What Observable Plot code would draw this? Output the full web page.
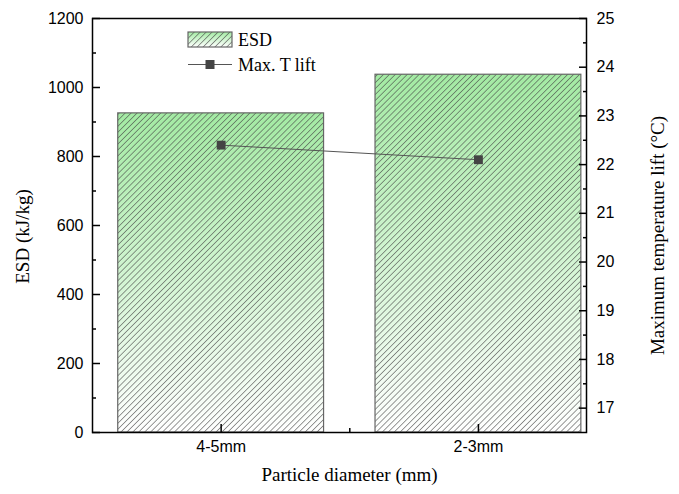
<!DOCTYPE html>
<html>
<head>
<meta charset="utf-8">
<script src="https://cdn.jsdelivr.net/npm/d3@7"></script>
<script src="https://cdn.jsdelivr.net/npm/@observablehq/plot@0.6"></script>
<style>
  html, body { margin: 0; padding: 0; background: #fff; }
  #chart svg { display: block; }
</style>
</head>
<body>
<div id="chart"></div>
<script>
// ---- data ----
const categories = ["4-5mm", "2-3mm"];
const esdValues = [925, 1037];          // ESD (kJ/kg)
const tempLift = [22.4, 22.1];          // Max. T lift (°C)
const esdTicks = [0, 200, 400, 600, 800, 1000, 1200];
const esdMinorTicks = [100, 300, 500, 700, 900, 1100];
const tempTicks = [17, 18, 19, 20, 21, 22, 23, 24, 25];
const tempMinorTicks = [17.5, 18.5, 19.5, 20.5, 21.5, 22.5, 23.5, 24.5];
const esdDomain = [0, 1200];
const tempDomain = [16.5, 25];

// map temperature onto the ESD (left) scale for the secondary axis
const tToY = d3.scaleLinear().domain(tempDomain).range(esdDomain);

const data = categories.map((c, i) => ({cat: c, pos: i + 1, esd: esdValues[i], t: tempLift[i]}));
const xTicks = data.map(d => d.pos);
const xMinor = [1.5];
const barHalf = 0.4;

const serif = "'Liberation Serif', 'Times New Roman', serif";
const sans = "'Liberation Sans', Arial, sans-serif";
const tickColor = "#000";

const chart = Plot.plot({
  width: 679,
  height: 494,
  marginLeft: 92,
  marginRight: 93,
  marginTop: 18,
  marginBottom: 62,
  style: {fontFamily: sans, fontSize: "16px", color: "#000", background: "#fff"},
  x: {domain: [0.5, 2.42]},
  y: {domain: esdDomain},
  marks: [
    Plot.rectY(data, {x1: d => d.pos - barHalf, x2: d => d.pos + barHalf, y: "esd", fill: "url(#esdGrad)"}),
    Plot.rectY(data, {x1: d => d.pos - barHalf, x2: d => d.pos + barHalf, y: "esd", fill: "url(#esdHatch)", stroke: "#666", strokeWidth: 1.2}),
    Plot.line(data, {x: "pos", y: d => tToY(d.t), stroke: "#555", strokeWidth: 1}),
    Plot.dot(data, {x: "pos", y: d => tToY(d.t), symbol: "square", r: 5, fill: "#444", stroke: "none"}),
    // left axis: labels + inward ticks
    Plot.axisY({anchor: "left", ticks: esdTicks, tickSize: 0, tickPadding: 9, tickFormat: d => String(d), label: null, fontSize: 16}),
    Plot.axisY({anchor: "left", ticks: esdTicks, tickSize: 8, dx: 8, text: null, label: null, strokeWidth: 1.5, stroke: tickColor}),
    Plot.axisY({anchor: "left", ticks: esdMinorTicks, tickSize: 4, dx: 4, text: null, label: null, strokeWidth: 1.5, stroke: tickColor}),
    // right axis (temperature)
    Plot.axisY({anchor: "right", ticks: tempTicks.map(tToY), tickSize: 0, tickPadding: 10, tickFormat: v => String(Math.round(tToY.invert(v))), label: null, fontSize: 16}),
    Plot.axisY({anchor: "right", ticks: tempTicks.map(tToY), tickSize: 8, dx: -8, text: null, label: null, strokeWidth: 1.5, stroke: tickColor}),
    Plot.axisY({anchor: "right", ticks: tempMinorTicks.map(tToY), tickSize: 4, dx: -4, text: null, label: null, strokeWidth: 1.5, stroke: tickColor}),
    // bottom axis
    Plot.axisX({anchor: "bottom", ticks: xTicks, tickSize: 0, tickPadding: 8, tickFormat: v => categories[v - 1], label: null, fontSize: 16}),
    Plot.axisX({anchor: "bottom", ticks: xTicks, tickSize: 8, dy: -8, text: null, label: null, strokeWidth: 1.5, stroke: tickColor}),
    Plot.axisX({anchor: "bottom", ticks: xMinor, tickSize: 4, dy: -4, text: null, label: null, strokeWidth: 1.5, stroke: tickColor}),
    Plot.frame({stroke: "#000", strokeWidth: 1.5}),
    // axis titles
    Plot.text(["ESD (kJ/kg)"], {frameAnchor: "left", textAnchor: "middle", rotate: -90, dx: -70, dy: 11, fontFamily: serif, fontSize: 19}),
    Plot.text(["Maximum temperature lift (°C)"], {frameAnchor: "right", textAnchor: "middle", rotate: -90, dx: 71, dy: 10, fontFamily: serif, fontSize: 19}),
    Plot.text(["Particle diameter (mm)"], {frameAnchor: "bottom", textAnchor: "middle", dy: 48, dx: 10, fontFamily: serif, fontSize: 19})
  ]
});

// defs: gradient + hatch pattern
const svg = d3.select(chart);
const defs = svg.insert("defs", ":first-child");
const grad = defs.append("linearGradient").attr("id", "esdGrad").attr("x1", 0).attr("y1", 0).attr("x2", 0).attr("y2", 1);
grad.append("stop").attr("offset", "0%").attr("stop-color", "#a3eaa3");
grad.append("stop").attr("offset", "100%").attr("stop-color", "#ffffff");
const pat = defs.append("pattern").attr("id", "esdHatch").attr("patternUnits", "userSpaceOnUse")
  .attr("width", 4.2).attr("height", 4.2).attr("patternTransform", "rotate(45)");
pat.append("line").attr("x1", 0).attr("y1", 0).attr("x2", 0).attr("y2", 4.2)
  .attr("stroke", "#444").attr("stroke-width", 1.1);

// legend (inside plot area)
const lg = svg.append("g").attr("class", "legend").attr("text-anchor", "start");
lg.append("rect").attr("x", 188).attr("y", 32).attr("width", 44).attr("height", 15).attr("fill", "url(#esdGrad)");
lg.append("rect").attr("x", 188).attr("y", 32).attr("width", 44).attr("height", 15).attr("fill", "url(#esdHatch)").attr("stroke", "#666").attr("stroke-width", 1.2);
lg.append("text").attr("x", 238).attr("y", 46).attr("font-family", serif).attr("font-size", 18).text("ESD");
lg.append("line").attr("x1", 188).attr("x2", 232).attr("y1", 64.5).attr("y2", 64.5).attr("stroke", "#555").attr("stroke-width", 1);
lg.append("rect").attr("x", 205.5).attr("y", 60).attr("width", 9).attr("height", 9).attr("fill", "#444");
lg.append("text").attr("x", 238).attr("y", 71).attr("font-family", serif).attr("font-size", 18).text("Max. T lift");

document.getElementById("chart").append(chart);
</script>
</body>
</html>
